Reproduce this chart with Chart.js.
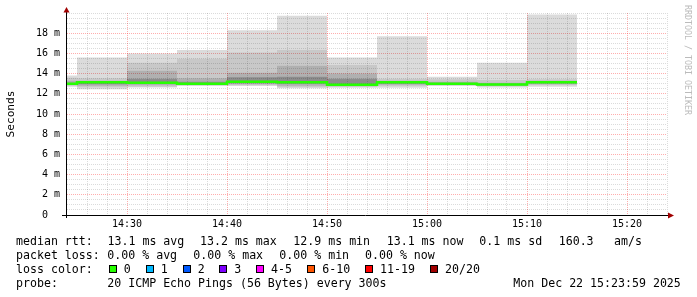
<!DOCTYPE html>
<html>
<head>
<meta charset="utf-8">
<script src="https://cdn.jsdelivr.net/npm/chart.js@4.4.1/dist/chart.umd.min.js"></script>
<style>
  html, body { margin: 0; padding: 0; background: #fff; }
  #wrap { position: relative; width: 697px; height: 297px; overflow: hidden; }
  #grafico { position: absolute; left: 0; top: 0; }
  .txt { position: absolute; font: 11.6px 'DejaVu Sans Mono', monospace; line-height: 14px; white-space: pre; color: #000; }
  .caja { position: absolute; width: 6px; height: 6px; border: 1px solid #000; }
</style>
</head>
<body>
<div id="wrap">
  <canvas id="grafico" width="697" height="297"></canvas>
  <div id="leyenda"></div>
</div>
<script>
// limites de cada intervalo de 5 min (el primero recortado por el borde)
const horas = ['14:24', '14:25', '14:30', '14:35', '14:40', '14:45', '14:50', '14:55', '15:00', '15:05', '15:10', '15:15'];
const horaInicio = '14:24';
const horaFin = '15:24';

// humo (ms): banda exterior, media, central y nucleo
const pingMin = [12.7, 12.45, 12.63, 12.77, 12.77, 12.54, 12.6, 12.6, 12.77, 12.63, 12.7];
const pingMax = [13.8, 15.6, 16.0, 16.34, 18.3, 19.73, 15.6, 17.7, 13.7, 15.08, 19.85];
const medioBajo = [12.8, 12.65, 12.7, 12.85, 12.85, 12.65, 12.7, 12.75, 12.85, 12.75, 12.85];
const medioAlto = [13.6, 13.55, 15.08, 15.48, 16.1, 16.34, 14.85, 13.5, 13.43, 13.36, 13.45];
const centroBajo = [12.9, 12.8, 12.85, 12.9, 12.95, 12.8, 12.75, 12.9, 12.9, 12.8, 12.95];
const centroAlto = [13.3, 13.3, 14.28, 13.55, 14.09, 14.78, 14.0, 13.3, 13.2, 13.1, 13.3];
const nucleoBajo = [12.95, 12.95, 13.0, 12.95, 13.05, 13.0, 12.8, 13.0, 12.95, 12.85, 13.05];
const nucleoAlto = [13.1, 13.2, 13.5, 13.2, 13.63, 13.7, 13.5, 13.2, 13.1, 13.0, 13.2];
const mediana = [13.0, 13.15, 13.1, 13.0, 13.2, 13.15, 12.9, 13.15, 13.0, 12.93, 13.15];

// leyenda
const lineaRtt = ['median rtt:', '13.1 ms avg', '13.2 ms max', '12.9 ms min', '13.1 ms now', '0.1 ms sd', '160.3', 'am/s'];
const lineaPerdida = ['packet loss:', '0.00 % avg', '0.00 % max', '0.00 % min', '0.00 % now'];
const perdidaEtiquetas = ['0', '1', '2', '3', '4-5', '6-10', '11-19', '20/20'];
const perdidaColores = ['#26ff00', '#00b8ff', '#0059ff', '#7e00ff', '#ff00ff', '#ff5500', '#ff0000', '#a10000'];
const lineaSonda = ['probe:', '20 ICMP Echo Pings (56 Bytes) every 300s', 'Mon Dec 22 15:23:59 2025'];

// posiciones de la leyenda (px)
const rttX = [16, 107.5, 200, 293.3, 386.7, 479.3, 558.7, 614];
const perdidaX = [16, 107.3, 193.3, 279.3, 365];
const cajaX = [108.7, 145.7, 182.7, 219.3, 256, 307.3, 365, 430];
const sondaX = [16, 107.3, 513.3];
const filasY = [234, 248, 262, 276];

function aMin(h) {
  const [hh, mm] = h.split(':').map(Number);
  return hh * 60 + mm;
}

function formatoHora(v) {
  const hh = Math.floor(v / 60);
  const mm = v % 60;
  return hh + ':' + String(mm).padStart(2, '0');
}

// cada valor vale desde su hora hasta la siguiente
function escalon(valores) {
  const pts = valores.map((v, i) => ({ x: aMin(horas[i]), y: v }));
  pts.push({ x: aMin(horas[valores.length]), y: valores[valores.length - 1] });
  return pts;
}

function banda(bajo, alto, color, orden) {
  const comun = { stepped: 'before', borderWidth: 0, borderColor: 'transparent', pointRadius: 0, order: orden };
  return [
    { ...comun, data: escalon(bajo), fill: false },
    { ...comun, data: escalon(alto), fill: '-1', backgroundColor: color },
  ];
}

const datasets = [
  ...banda(pingMin, pingMax, 'rgba(0,0,0,0.14)', 5),
  ...banda(medioBajo, medioAlto, 'rgba(0,0,0,0.09)', 4),
  ...banda(centroBajo, centroAlto, 'rgba(0,0,0,0.12)', 3),
  ...banda(nucleoBajo, nucleoAlto, 'rgba(0,0,0,0.2)', 2),
  {
    data: escalon(mediana),
    stepped: 'before',
    borderColor: '#26ff00',
    borderWidth: 2.5,
    pointRadius: 0,
    fill: false,
    order: 1,
  },
];

const gridMenor = 'rgba(0,0,0,0.14)';
const gridMayor = 'rgba(255,60,60,0.42)';

const ejes = {
  id: 'ejes',
  afterDraw(chart) {
    const { ctx, chartArea: a } = chart;
    const x0 = Math.round(a.left) - 0.5;
    const y0 = Math.round(a.bottom) + 0.5;
    ctx.save();
    ctx.strokeStyle = '#000';
    ctx.lineWidth = 1;
    ctx.beginPath();
    ctx.moveTo(a.left - 5, y0);
    ctx.lineTo(a.right + 2, y0);
    ctx.moveTo(x0, a.bottom + 3);
    ctx.lineTo(x0, a.top - 3);
    ctx.stroke();
    ctx.fillStyle = '#a00000';
    ctx.beginPath();
    ctx.moveTo(x0, a.top - 6);
    ctx.lineTo(x0 - 3, a.top - 0.5);
    ctx.lineTo(x0 + 3, a.top - 0.5);
    ctx.closePath();
    ctx.fill();
    ctx.beginPath();
    ctx.moveTo(a.right + 7, y0);
    ctx.lineTo(a.right + 1, y0 - 3);
    ctx.lineTo(a.right + 1, y0 + 3);
    ctx.closePath();
    ctx.fill();
    // marca de agua
    ctx.fillStyle = '#bbbbbb';
    ctx.font = '8.3px "DejaVu Sans Mono"';
    ctx.textBaseline = 'middle';
    ctx.translate(chart.width - 10, 5);
    ctx.rotate(Math.PI / 2);
    ctx.fillText('RRDTOOL / TOBI OETIKER', 0, 0);
    ctx.restore();
  }
};

Chart.defaults.font.family = "'DejaVu Sans Mono', monospace";

new Chart(document.getElementById('grafico'), {
  type: 'line',
  data: { datasets },
  options: {
    responsive: false,
    animation: false,
    layout: { padding: { left: 0, top: 13, right: 30, bottom: 62 } },
    plugins: { legend: { display: false }, tooltip: { enabled: false } },
    scales: {
      x: {
        type: 'linear',
        min: aMin(horaInicio),
        max: aMin(horaFin),
        afterBuildTicks: (eje) => {
          const t = [];
          for (let v = aMin(horaInicio); v <= aMin(horaFin); v += 2) t.push({ value: v });
          eje.ticks = t;
        },
        afterFit: (eje) => { eje.height = 20; },
        ticks: {
          autoSkip: false,
          maxRotation: 0,
          padding: 0,
          color: '#000',
          font: { size: 10 },
          callback: (v) => (v % 10 === 0 ? formatoHora(v) : ''),
        },
        grid: {
          color: (c) => (c.tick.value === aMin(horaInicio) ? 'transparent' : (c.tick.value % 10 === 0 ? gridMayor : gridMenor)),
          tickColor: 'transparent',
          tickLength: 3,
        },
        border: { display: false, dash: [1, 1] },
      },
      y: {
        min: 0,
        max: 20,
        afterBuildTicks: (eje) => {
          const t = [];
          for (let v = 0; v <= 20; v += 0.5) t.push({ value: v });
          eje.ticks = t;
        },
        afterFit: (eje) => { eje.width = 67; },
        title: { display: true, text: 'Seconds', color: '#000', font: { size: 11.2 }, padding: { top: 4, bottom: 0 } },
        ticks: {
          autoSkip: false,
          padding: 3,
          color: '#000',
          font: { size: 10 },
          callback: (v) => (v % 2 === 0 && v < 20 ? (v === 0 ? '0  ' : v + ' m') : ''),
        },
        grid: {
          color: (c) => (c.tick.value === 0 ? 'transparent' : (c.tick.value % 2 === 0 && c.tick.value < 20 ? gridMayor : gridMenor)),
          tickColor: 'transparent',
          tickLength: 4,
        },
        border: { display: false, dash: [1, 1] },
      },
    },
  },
  plugins: [ejes],
});

// leyenda inferior como texto
const leyenda = document.getElementById('leyenda');
function texto(t, x, y) {
  const d = document.createElement('div');
  d.className = 'txt';
  d.textContent = t;
  d.style.left = x + 'px';
  d.style.top = y + 'px';
  leyenda.appendChild(d);
}
lineaRtt.forEach((t, i) => texto(t, rttX[i], filasY[0]));
lineaPerdida.forEach((t, i) => texto(t, perdidaX[i], filasY[1]));
texto('loss color:', 16, filasY[2]);
perdidaEtiquetas.forEach((t, i) => {
  const c = document.createElement('div');
  c.className = 'caja';
  c.style.left = cajaX[i] + 'px';
  c.style.top = (filasY[2] + 3) + 'px';
  c.style.background = perdidaColores[i];
  leyenda.appendChild(c);
  texto(t, cajaX[i] + 15, filasY[2]);
});
lineaSonda.forEach((t, i) => texto(t, sondaX[i], filasY[3]));
</script>
</body>
</html>
